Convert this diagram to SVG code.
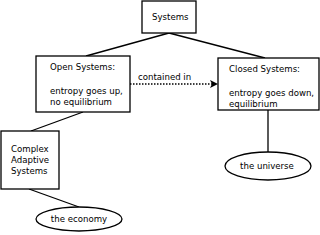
<svg xmlns="http://www.w3.org/2000/svg" width="320" height="235" viewBox="0 0 320 235">
<style>
.b{fill:#fff;stroke:#000;stroke-width:1.3}
.t{font-family:"DejaVu Sans",sans-serif;font-size:8.6px;fill:#000}
.l{stroke:#000;stroke-width:1.3;fill:none}
</style>
<defs>
<marker id="ah" markerWidth="8" markerHeight="8" refX="7" refY="4" orient="auto" markerUnits="userSpaceOnUse">
<path d="M0,0 L8,4 L0,8 L2,4 Z" fill="#000"/>
</marker>
</defs>
<rect width="320" height="235" fill="#fff"/>
<g id="connectors">
<line class="l" x1="169" y1="33" x2="86" y2="56"/>
<line class="l" x1="169" y1="33" x2="265" y2="58"/>
<line class="l" x1="83" y1="112" x2="31" y2="131"/>
<line class="l" x1="29" y1="189" x2="79" y2="207"/>
<line class="l" x1="268" y1="110" x2="268" y2="152"/>
<line class="l" x1="130" y1="84" x2="217" y2="84" stroke-dasharray="1.5,1.5" marker-end="url(#ah)"/>
<text class="t" x="138" y="80">contained in</text>
</g>
<g id="systems">
<rect class="b" x="142" y="1" width="54" height="32"/>
<text class="t" x="152" y="20">Systems</text>
</g>
<g id="open">
<rect class="b" x="36" y="56" width="94" height="56"/>
<text class="t" x="50" y="70">Open Systems:</text>
<text class="t" x="50" y="94">entropy goes up,</text>
<text class="t" x="50" y="105">no equilibrium</text>
</g>
<g id="closed">
<rect class="b" x="218" y="58" width="101" height="52"/>
<text class="t" x="229" y="72">Closed Systems:</text>
<text class="t" x="229" y="96">entropy goes down,</text>
<text class="t" x="229" y="107">equilibrium</text>
</g>
<g id="complex">
<rect class="b" x="1" y="131" width="58" height="58"/>
<text class="t" x="11" y="152">Complex</text>
<text class="t" x="11" y="163">Adaptive</text>
<text class="t" x="11" y="174">Systems</text>
</g>
<g id="economy">
<ellipse class="b" cx="79" cy="219" rx="43" ry="12"/>
<text class="t" x="79" y="222" text-anchor="middle">the economy</text>
</g>
<g id="universe">
<ellipse class="b" cx="268" cy="166" rx="43" ry="14"/>
<text class="t" x="267" y="169" text-anchor="middle">the universe</text>
</g>
</svg>
